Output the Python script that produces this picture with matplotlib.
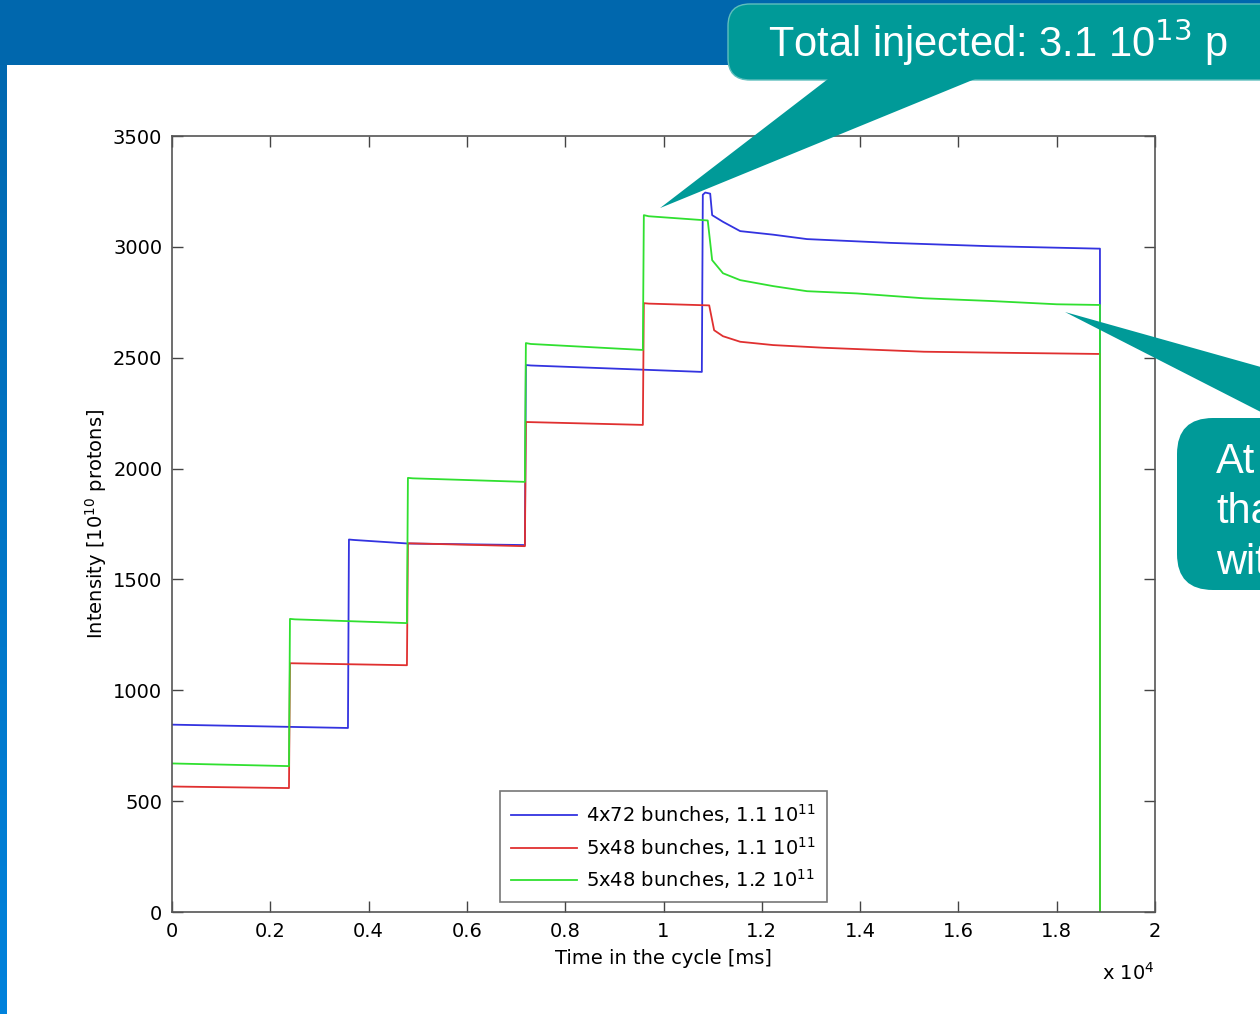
import matplotlib
matplotlib.use("Agg")
import matplotlib.pyplot as plt
import numpy as np
from matplotlib.patches import FancyBboxPatch, Polygon, Rectangle

# time in ms, intensity in 1e10 protons
t_blue = [0, 3580, 3600, 3700, 4800, 7180, 7200, 7300, 10780, 10800, 10850, 10950, 10990,
          11210, 11560, 12230, 12920, 14610, 16640, 18840, 18880, 18881]
i_blue = [845, 830, 1680, 1678, 1662, 1655, 2467, 2465, 2436, 3235, 3245, 3240, 3143,
          3113, 3071, 3055, 3035, 3018, 3003, 2992, 2992, 0]

t_red = [0, 2380, 2400, 4780, 4800, 7180, 7200, 9580, 9600, 9700, 10930, 11030,
         11210, 11560, 12230, 13250, 15300, 16640, 18840, 18880, 18881]
i_red = [566, 559, 1122, 1113, 1663, 1650, 2210, 2197, 2746, 2744, 2736, 2624,
         2597, 2572, 2557, 2545, 2527, 2523, 2517, 2517, 0]

t_green = [0, 2380, 2400, 2500, 4780, 4800, 4900, 7180, 7200, 7300, 9580, 9600, 9700,
           10900, 10990, 11210, 11560, 12230, 12920, 13930, 15300, 16640, 18000, 18840,
           18880, 18881]
i_green = [670, 658, 1322, 1320, 1303, 1958, 1956, 1940, 2566, 2562, 2535, 3143, 3138,
           3119, 2940, 2881, 2850, 2823, 2800, 2790, 2768, 2756, 2741, 2738, 2738, 0]

labels = ["4x72 bunches, 1.1 10$^{11}$",
          "5x48 bunches, 1.1 10$^{11}$",
          "5x48 bunches, 1.2 10$^{11}$"]

xticks = np.arange(0, 20001, 2000)
xticklabels = ["0", "0.2", "0.4", "0.6", "0.8", "1", "1.2", "1.4", "1.6", "1.8", "2"]
yticks = np.arange(0, 3501, 500)

# callout anchors in data units
tip_total = (9930, 3175)
tip_end = (18170, 2706)

W, H = 1260, 1014
fig = plt.figure(figsize=(W / 100, H / 100), dpi=100)
fig.patch.set_facecolor("white")
plt.rcParams["font.family"] = ["DejaVu Sans"]
fs = 14

ax = fig.add_axes([172 / W, 1 - 912 / H, 983 / W, 776 / H])
ax.plot(t_blue, i_blue, color="#3333e0", lw=1.3, label=labels[0])
ax.plot(t_red, i_red, color="#e03030", lw=1.3, label=labels[1])
ax.plot(t_green, i_green, color="#30e030", lw=1.3, label=labels[2])
ax.set_xlim(0, 20000)
ax.set_ylim(0, 3500)
ax.set_xticks(xticks)
ax.set_xticklabels(xticklabels)
ax.set_yticks(yticks)
ax.tick_params(direction="in", length=8, width=1, color="#444444", labelsize=fs,
               top=True, right=True, pad=7)
for s in ax.spines.values():
    s.set_color("#555555")
    s.set_linewidth(1.2)
ax.set_xlabel("Time in the cycle [ms]", fontsize=fs, labelpad=6)
ax.set_ylabel("Intensity [10$^{10}$ protons]", fontsize=fs, labelpad=3)
ax.text(1.0, -0.064, "x 10$^4$", transform=ax.transAxes, ha="right", va="top", fontsize=fs)
leg = ax.legend(loc="lower left", bbox_to_anchor=(0.334, 0.013), fontsize=fs,
                fancybox=False, edgecolor="#555555", handlelength=3.4,
                borderpad=0.55, labelspacing=0.45, handletextpad=0.45, borderaxespad=0)
leg.get_frame().set_linewidth(1.2)

# slide decoration and callouts on a pixel overlay
ov = fig.add_axes([0, 0, 1, 1], zorder=10)
ov.axis("off")
ov.patch.set_alpha(0)

ov.add_patch(Rectangle((0, 0), W, 65, color="#0067ad", lw=0))
grad = np.linspace(0, 1, 256).reshape(-1, 1)
ov.imshow(grad, extent=(0, 7, H, 65), cmap=matplotlib.colors.LinearSegmentedColormap.from_list(
    "strip", ["#0068b0", "#0082dc"]), aspect="auto")
ov.set_xlim(0, W)
ov.set_ylim(H, 0)


def to_px(pt):
    x, y = ax.transData.transform(pt)
    return x, H - y


teal = "#009a98"
ov.add_patch(FancyBboxPatch((728, 4), 600, 76, boxstyle="round,pad=0,rounding_size=22",
                            fc=teal, ec="#5fbfbd", lw=1.0))
ov.add_patch(Polygon([(828, 79), (975, 79), to_px(tip_total)], closed=True, fc=teal, lw=0))
ov.text(768, 42, "Total injected: 3.1 10$^{13}$ p", color="white", fontsize=30,
        family="Liberation Sans", va="center", ha="left")

ov.add_patch(FancyBboxPatch((1177, 418), 200, 172, boxstyle="round,pad=0,rounding_size=36",
                            fc=teal, lw=0))
ov.add_patch(Polygon([to_px(tip_end), (1300, 378), (1300, 432)], closed=True, fc=teal, lw=0))
for txt, yy in zip(["At", "tha", "wit"], [462, 512, 563]):
    ov.text(1216, yy, txt, color="white", fontsize=30, family="Liberation Sans",
            va="center", ha="left")

fig.savefig("out.png", dpi=100)
